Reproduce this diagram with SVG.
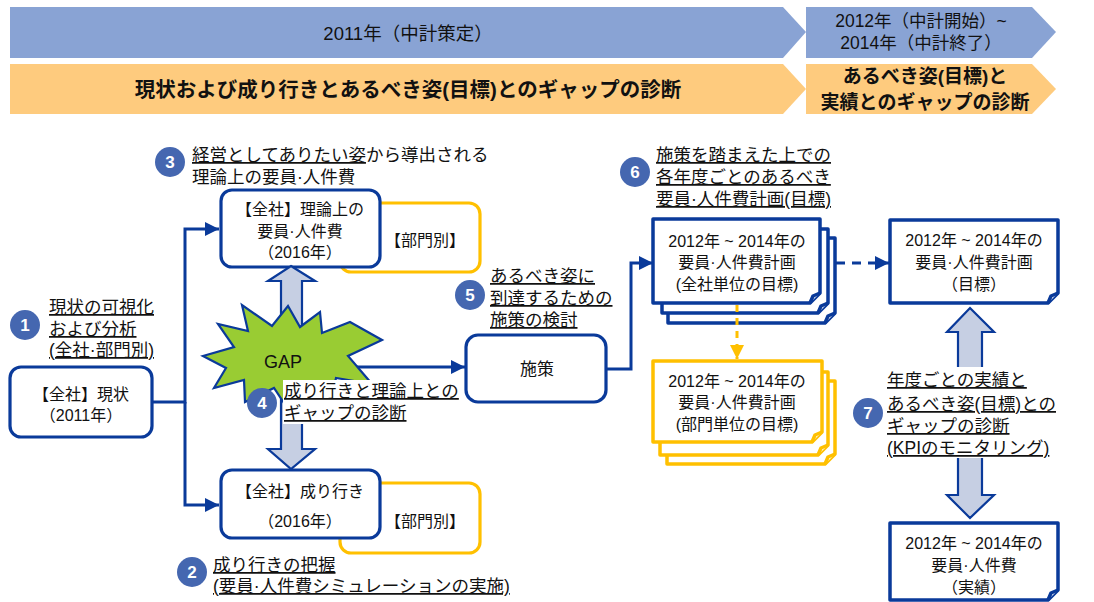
<svg xmlns="http://www.w3.org/2000/svg" width="1094" height="602" viewBox="0 0 1094 602">
<style>
text{font-family:"Liberation Sans","Noto Sans CJK JP",sans-serif;fill:#111}
.h{font-size:18.5px}
.h2{font-size:17.5px}
.hb{font-size:20.5px;font-weight:bold}
.hb2{font-size:19px;font-weight:bold}
.n{font-size:16px;text-anchor:middle}
.l{font-size:17.5px}
.u{text-decoration:underline}
.bn{font-size:17px;font-weight:bold;fill:#fff;text-anchor:middle}
.box{fill:#fff;stroke:#0a3a9a;stroke-width:3.2}
.dep{fill:#fff;stroke:#ffc000;stroke-width:3.2}
.doc{fill:#fff;stroke:#0a3a9a;stroke-width:3.5;stroke-linejoin:round}
.ydoc{fill:#fff;stroke:#ffc000;stroke-width:3.5;stroke-linejoin:round}
.con{fill:none;stroke:#0a3a9a;stroke-width:3}
.blk{fill:#c6cfe3;stroke:#0a3a9a;stroke-width:2.2;stroke-linejoin:miter}
.badge{fill:#4567b0}
</style>
<defs>
<marker id="ah" markerUnits="userSpaceOnUse" markerWidth="15" markerHeight="15" refX="14" refY="7" orient="auto"><path d="M0,0 L14,7 L0,14 Z" fill="#0a3a9a"/></marker>
<marker id="ahy" markerUnits="userSpaceOnUse" markerWidth="15" markerHeight="15" refX="14" refY="7" orient="auto"><path d="M0,0 L14,7 L0,14 Z" fill="#ffc000"/></marker>
</defs>

<g id="header">
<polygon points="10,7 783,7 806,32 783,58 10,58" fill="#89a3d4"/>
<polygon points="806,7 1032,7 1056,32 1032,58 806,58" fill="#89a3d4"/>
<polygon points="10,64 783,64 806,89 783,114 10,114" fill="#fecb7e"/>
<polygon points="806,64 1032,64 1056,89 1032,114 806,114" fill="#fecb7e"/>
<text class="h" x="408" y="40" text-anchor="middle">2011年（中計策定）</text>
<text class="h2" x="921" y="27" text-anchor="middle">2012年（中計開始）~</text>
<text class="h2" x="921" y="49" text-anchor="middle">2014年（中計終了）</text>
<text class="hb" x="408" y="97" text-anchor="middle">現状および成り行きとあるべき姿(目標)とのギャップの診断</text>
<text class="hb2" x="925" y="83" text-anchor="middle">あるべき姿(目標)と</text>
<text class="hb2" x="925" y="109" text-anchor="middle">実績とのギャップの診断</text>
</g>

<g id="connectors">
<path class="con" d="M152,402 H185 V229 H219" marker-end="url(#ah)"/>
<path class="con" d="M185,402 V505 H219" marker-end="url(#ah)"/>
<path class="con" d="M345,367 H465" marker-end="url(#ah)"/>
<path class="con" d="M606,369 H631 V263 H653" marker-end="url(#ah)"/>
<path class="con" d="M836,263 H889" stroke-dasharray="9 7" marker-end="url(#ah)"/>
</g>

<g id="dept-top"><rect class="dep" x="340" y="203" width="140" height="69" rx="11"/><text class="n" x="425" y="246">【部門別】</text></g>
<g id="dept-bottom"><rect class="dep" x="340" y="483" width="140" height="70" rx="11"/><text class="n" x="425" y="527">【部門別】</text></g>

<g id="node-current"><rect class="box" x="10" y="367" width="142" height="70" rx="11"/><text class="n" x="81" y="400">【全社】現状</text><text class="n" x="81" y="421">（2011年）</text></g>

<g id="node-theory"><rect class="box" x="221" y="190" width="159" height="77" rx="11"/><text class="n" x="300" y="215">【全社】理論上の</text><text class="n" x="300" y="237">要員·人件費</text><text class="n" x="300" y="258">（2016年）</text></g>

<g id="node-trend"><rect class="box" x="221" y="470" width="159" height="68" rx="11"/><text class="n" x="300" y="497">【全社】成り行き</text><text class="n" x="300" y="527">（2016年）</text></g>

<g id="gap-arrows">
<polygon class="blk" points="291,266 315,281 302,281 302,335 281,335 281,281 268,281"/>
<polygon class="blk" points="281,392 302,392 302,449 315,449 291,469 268,449 281,449"/>
</g>

<g id="node-gap">
<polygon points="382,340 348,356 372,384 336,378 330,405 306,386 290,412 274,388 245,402 244,380 214,388 226,368 203,356 234,347 218,324 248,331 242,305 272,326 288,306 300,327 320,312 322,333 350,322" fill="#99cc33" stroke="#0a3a9a" stroke-width="2.2" stroke-linejoin="miter"/>
<text x="283" y="368" font-size="18" text-anchor="middle">GAP</text>
</g>

<g id="node-measure"><rect class="box" x="466" y="335" width="140" height="67" rx="12"/><text x="537" y="375" font-size="17" text-anchor="middle">施策</text></g>

<g id="node-plan-company">
<path class="doc" d="M668,238 H835 V313 L825,323 H668 Z"/><path class="doc" d="M825,323 L828,316 L835,313" fill="none"/>
<path class="doc" d="M662,229 H828 V303 L818,313 H662 Z"/><path class="doc" d="M818,313 L821,306 L828,303" fill="none"/>
<path class="doc" d="M653,219 H820 V293 L810,303 H653 Z"/><path class="doc" d="M810,303 L813,296 L820,293" fill="none"/>
<text class="n" x="737" y="247">2012年 ~ 2014年の</text><text class="n" x="737" y="268">要員·人件費計画</text><text class="n" x="737" y="290">(全社単位の目標)</text>
</g>

<g id="node-plan-dept">
<path class="ydoc" d="M667,381 H835 V454 L825,464 H667 Z"/><path class="ydoc" d="M825,464 L828,457 L835,454" fill="none"/>
<path class="ydoc" d="M660,372 H828 V445 L818,455 H660 Z"/><path class="ydoc" d="M818,455 L821,448 L828,445" fill="none"/>
<path class="ydoc" d="M653,361 H822 V432 L812,442 H653 Z"/><path class="ydoc" d="M812,442 L815,435 L822,432" fill="none"/>
<text class="n" x="737" y="387">2012年 ~ 2014年の</text><text class="n" x="737" y="408">要員·人件費計画</text><text class="n" x="737" y="430">(部門単位の目標)</text>
</g>

<g id="connector-yellow"><path d="M737,305 V359" fill="none" stroke="#ffc000" stroke-width="3" stroke-dasharray="7 6" marker-end="url(#ahy)"/></g>

<g id="node-plan-target">
<path class="doc" d="M890,220 H1058 V293 L1048,303 H890 Z"/><path class="doc" d="M1048,303 L1051,296 L1058,293" fill="none"/>
<text class="n" x="974" y="246">2012年 ~ 2014年の</text><text class="n" x="974" y="268">要員·人件費計画</text><text class="n" x="974" y="290">（目標）</text>
</g>

<g id="kpi-arrows">
<polygon class="blk" points="970,308 994,332 982,332 982,380 958,380 958,332 947,332"/>
<polygon class="blk" points="958,440 982,440 982,495 994,495 970,518 947,495 958,495"/>
</g>

<g id="node-actual">
<path class="doc" d="M890,523 H1058 V590 L1048,600 H890 Z"/><path class="doc" d="M1048,600 L1051,593 L1058,590" fill="none"/>
<text class="n" x="974" y="549">2012年 ~ 2014年の</text><text class="n" x="974" y="571">要員·人件費</text><text class="n" x="974" y="593">（実績）</text>
</g>

<g id="label-1"><circle class="badge" cx="25" cy="325" r="15"/><text class="bn" x="25" y="331">1</text>
<text class="l u" x="49" y="313">現状の可視化</text><text class="l u" x="49" y="335">および分析</text><text class="l u" x="49" y="356">(全社·部門別)</text></g>

<g id="label-2"><circle class="badge" cx="192" cy="572" r="15"/><text class="bn" x="192" y="578">2</text>
<text class="l u" x="213" y="571">成り行きの把握</text><text class="l u" x="213" y="592">(要員·人件費シミュレーションの実施)</text></g>

<g id="label-3"><circle class="badge" cx="170" cy="162" r="15"/><text class="bn" x="170" y="168">3</text>
<text class="l" x="192" y="161"><tspan class="u">経営としてありたい姿</tspan>から導出される</text><text class="l" x="192" y="183">理論上の要員·人件費</text></g>

<g id="label-4"><rect x="283" y="380" width="172" height="44" fill="#fff"/><circle class="badge" cx="262" cy="403" r="15"/><text class="bn" x="262" y="409">4</text>
<text class="l u" x="284" y="397">成り行きと理論上との</text><text class="l u" x="284" y="419">ギャップの診断</text></g>

<g id="label-5"><circle class="badge" cx="470" cy="295" r="15"/><text class="bn" x="470" y="301">5</text>
<text class="l u" x="490" y="282">あるべき姿に</text><text class="l u" x="490" y="304">到達するための</text><text class="l u" x="490" y="326">施策の検討</text></g>

<g id="label-6"><circle class="badge" cx="635" cy="172" r="15"/><text class="bn" x="635" y="178">6</text>
<text class="l u" x="656" y="161">施策を踏まえた上での</text><text class="l u" x="656" y="183">各年度ごとのあるべき</text><text class="l u" x="656" y="205">要員·人件費計画(目標)</text></g>

<g id="label-7"><rect x="886" y="367" width="180" height="91" fill="#fff"/><circle class="badge" cx="868" cy="413" r="15"/><text class="bn" x="868" y="419">7</text>
<text class="l u" x="887" y="386">年度ごとの実績と</text><text class="l u" x="887" y="410">あるべき姿(目標)との</text><text class="l u" x="887" y="432">ギャップの診断</text><text class="l u" x="887" y="454">(KPIのモニタリング)</text></g>
</svg>
